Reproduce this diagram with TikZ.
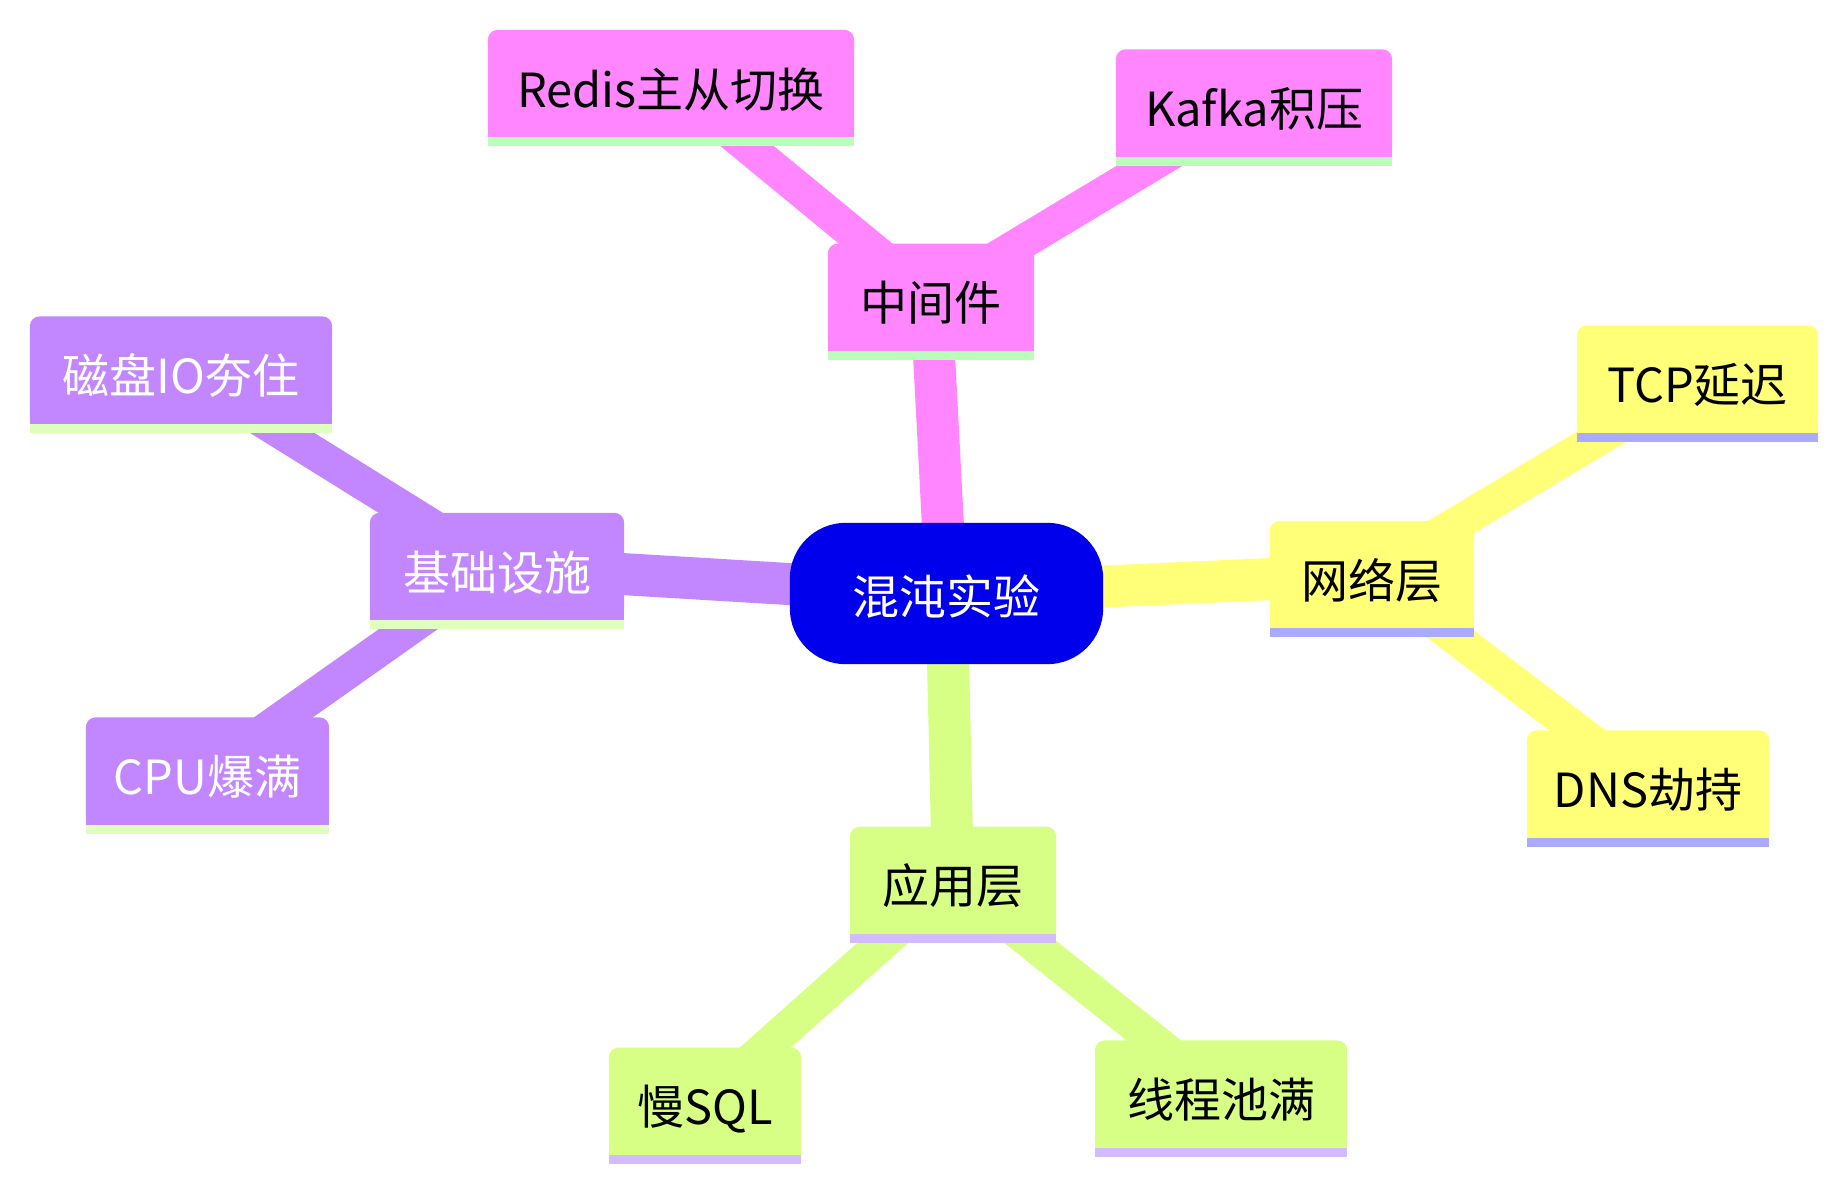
\documentclass[tikz,border=0pt]{standalone}
\usepackage{fontspec}
\setmainfont{Noto Sans CJK SC}
\usetikzlibrary{calc}
\pgfdeclarelayer{edgelayer}
\pgfdeclarelayer{boxlayer}
\pgfsetlayers{edgelayer,boxlayer,main}
\definecolor{rootblue}{RGB}{0,0,236}
\definecolor{pinkc}{RGB}{255,134,255}
\definecolor{pinkl}{RGB}{185,255,186}
\definecolor{purpc}{RGB}{194,134,255}
\definecolor{purpl}{RGB}{222,255,190}
\definecolor{yellc}{RGB}{255,255,120}
\definecolor{yelll}{RGB}{170,170,255}
\definecolor{grenc}{RGB}{215,255,134}
\definecolor{grenl}{RGB}{210,187,255}
\newcommand\mmbox[3]{%
  \begin{pgfonlayer}{boxlayer}
  \fill[#2, rounded corners=10pt] (#1.south west) rectangle (#1.north east);
  \fill[#2] (#1.south west) rectangle (#1.east);
  \fill[#3] (#1.south west) rectangle ($(#1.south east)+(0,9)$);
  \end{pgfonlayer}}
\begin{document}
\begin{tikzpicture}[x=1pt,y=-1pt,
  mm/.style={inner sep=0pt, minimum height=107pt, text height=47pt, text depth=0pt,
    font=\fontsize{47pt}{56pt}\selectfont, anchor=center},
  rootedge/.style={line width=42pt},
  childedge/.style={line width=34pt}]
\useasboundingbox (0,0) rectangle (1848,1189);
% root
\node[mm, minimum width=313pt, minimum height=141pt, text height=42pt, text=white] (root) at (946.5,593.5) {混沌实验};
% middleware section
\node[mm, minimum width=206pt] (mid) at (931,297.3) {中间件};
\node[mm, minimum width=366pt] (redis) at (671,83.5) {Redis主从切换};
\node[mm, minimum width=276pt] (kafka) at (1254,103) {Kafka积压};
% infrastructure section
\node[mm, minimum width=254pt, text=white] (infra) at (497,566.5) {基础设施};
\node[mm, minimum width=302pt, text=white] (disk) at (181,370) {磁盘IO夯住};
\node[mm, minimum width=243pt, text=white] (cpu) at (207.5,771) {CPU爆满};
% network section
\node[mm, minimum width=204pt] (net) at (1372,574.5) {网络层};
\node[mm, minimum width=241pt] (tcp) at (1697.5,379) {TCP延迟};
\node[mm, minimum width=242pt] (dns) at (1648,784) {DNS劫持};
% application section
\node[mm, minimum width=206pt] (app) at (953,880.3) {应用层};
\node[mm, minimum width=192pt] (sql) at (705,1101.3) {慢SQL};
\node[mm, minimum width=252pt] (pool) at (1221,1094) {线程池满};
% boxes
\begin{pgfonlayer}{boxlayer}
\fill[rootblue, rounded corners=56pt] (root.south west) rectangle (root.north east);
\end{pgfonlayer}
\mmbox{mid}{pinkc}{pinkl}
\mmbox{redis}{pinkc}{pinkl}
\mmbox{kafka}{pinkc}{pinkl}
\mmbox{infra}{purpc}{purpl}
\mmbox{disk}{purpc}{purpl}
\mmbox{cpu}{purpc}{purpl}
\mmbox{net}{yellc}{yelll}
\mmbox{tcp}{yellc}{yelll}
\mmbox{dns}{yellc}{yelll}
\mmbox{app}{grenc}{grenl}
\mmbox{sql}{grenc}{grenl}
\mmbox{pool}{grenc}{grenl}
% edges
\begin{pgfonlayer}{edgelayer}
\draw[rootedge, pinkc] (root.center) -- (mid.center);
\draw[rootedge, purpc] (root.center) -- (infra.center);
\draw[rootedge, yellc] (root.center) -- (net.center);
\draw[rootedge, grenc] (root.center) -- (app.center);
\draw[childedge, pinkc] (mid.center) -- (redis.center);
\draw[childedge, pinkc] (mid.center) -- (kafka.center);
\draw[childedge, purpc] (infra.center) -- (disk.center);
\draw[childedge, purpc] (infra.center) -- (cpu.center);
\draw[childedge, yellc] (net.center) -- (tcp.center);
\draw[childedge, yellc] (net.center) -- (dns.center);
\draw[childedge, grenc] (app.center) -- (sql.center);
\draw[childedge, grenc] (app.center) -- (pool.center);
\end{pgfonlayer}
\end{tikzpicture}
\end{document}
